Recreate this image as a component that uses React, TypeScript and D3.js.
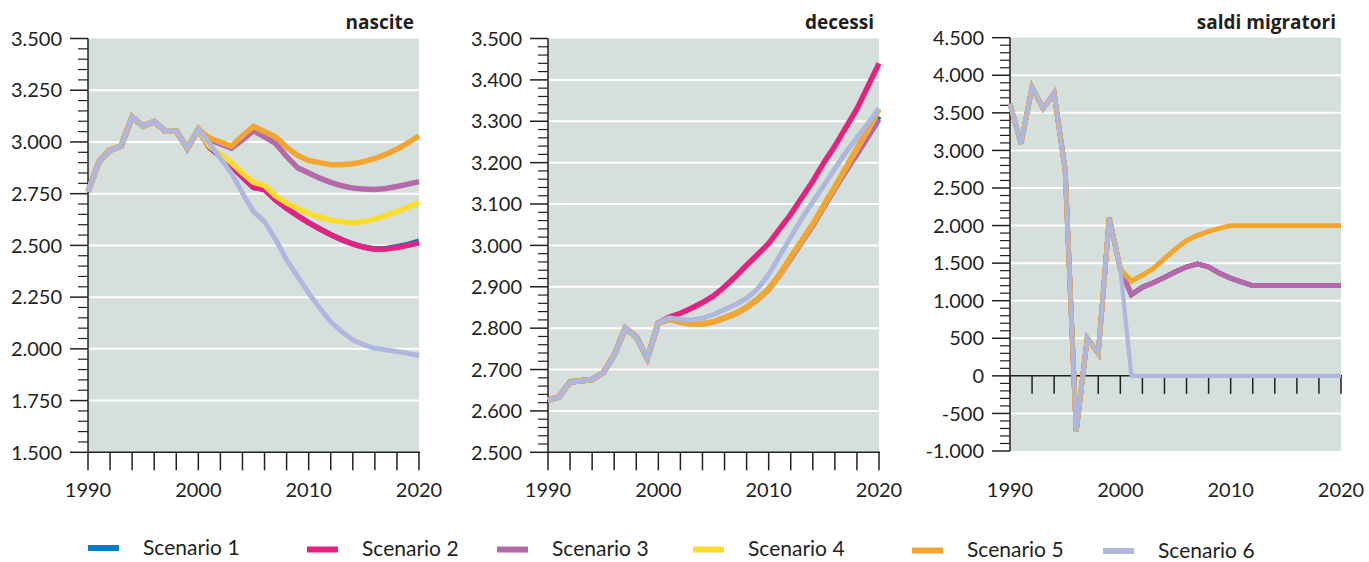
import * as d3 from "d3";

// anni sull'asse x
const years = [
  1990, 1991, 1992, 1993, 1994, 1995, 1996, 1997, 1998, 1999, 2000, 2001, 2002, 2003, 2004, 2005,
  2006, 2007, 2008, 2009, 2010, 2011, 2012, 2013, 2014, 2015, 2016, 2017, 2018, 2019, 2020,
];
const yearLabels = [1990, 2000, 2010, 2020];

const scenarios = ["Scenario 1", "Scenario 2", "Scenario 3", "Scenario 4", "Scenario 5", "Scenario 6"];
const colors = ["#0a7cc3", "#e3237f", "#b46aa9", "#fbdc2c", "#f2a531", "#aeb7dd"];

// nascite: storico 1990-2000, proiezioni 2001-2020
const birthsHist = [2760, 2905, 2960, 2980, 3120, 3077, 3098, 3053, 3053, 2970, 3061];
const birthsS1 = [2975, 2930, 2885, 2830, 2780, 2770, 2720, 2680, 2643, 2610, 2580, 2552, 2527, 2507, 2492, 2483, 2485, 2494, 2505, 2520];
const birthsS2 = [2975, 2930, 2885, 2830, 2780, 2770, 2720, 2680, 2643, 2610, 2580, 2552, 2527, 2507, 2491, 2481, 2482, 2490, 2500, 2512];
const birthsS3 = [3010, 2990, 2970, 3010, 3055, 3025, 2993, 2930, 2875, 2850, 2825, 2805, 2788, 2777, 2772, 2770, 2775, 2785, 2796, 2808];
const birthsS4 = [2980, 2940, 2900, 2850, 2805, 2790, 2740, 2705, 2678, 2655, 2636, 2622, 2613, 2610, 2614, 2628, 2645, 2664, 2685, 2708];
const birthsS5 = [3020, 3000, 2980, 3030, 3075, 3050, 3025, 2975, 2935, 2910, 2900, 2890, 2890, 2895, 2905, 2920, 2940, 2965, 2995, 3030];
const birthsS6 = [2995, 2920, 2850, 2753, 2663, 2615, 2530, 2430, 2349, 2270, 2197, 2131, 2083, 2043, 2019, 2003, 1995, 1987, 1978, 1968];

// decessi
const deathsHist = [2626, 2634, 2670, 2673, 2676, 2692, 2735, 2800, 2779, 2727, 2813];
const deathsS1 = [2822, 2815, 2810, 2810, 2815, 2825, 2835, 2850, 2870, 2895, 2930, 2970, 3010, 3050, 3094, 3138, 3182, 3225, 3268, 3312];
const deathsS2 = [2827, 2836, 2848, 2862, 2878, 2900, 2925, 2952, 2978, 3005, 3040, 3075, 3115, 3155, 3200, 3240, 3285, 3330, 3385, 3440];
const deathsS3 = [2822, 2815, 2810, 2810, 2815, 2825, 2835, 2850, 2869, 2893, 2928, 2968, 3008, 3048, 3093, 3138, 3180, 3220, 3262, 3305];
const deathsS4 = [2822, 2815, 2810, 2810, 2815, 2825, 2835, 2850, 2870, 2895, 2930, 2972, 3012, 3052, 3097, 3142, 3188, 3234, 3280, 3328];
const deathsS5 = [2822, 2815, 2810, 2810, 2815, 2825, 2835, 2850, 2870, 2895, 2930, 2972, 3012, 3052, 3097, 3142, 3188, 3235, 3282, 3330];
const deathsS6 = [2825, 2821, 2820, 2824, 2833, 2845, 2857, 2872, 2895, 2930, 2975, 3020, 3065, 3105, 3145, 3185, 3225, 3260, 3295, 3330];

// saldi migratori
const migrHist = [3620, 3090, 3840, 3560, 3760, 2740, -740, 500, 300, 2100, 1420];
const migrS1 = [1080, 1180, 1240, 1310, 1385, 1450, 1490, 1450, 1365, 1300, 1250, 1200, 1200, 1200, 1200, 1200, 1200, 1200, 1200, 1200];
const migrS2 = [1080, 1180, 1240, 1310, 1385, 1450, 1490, 1450, 1365, 1300, 1250, 1200, 1200, 1200, 1200, 1200, 1200, 1200, 1200, 1200];
const migrS3 = [1080, 1180, 1240, 1310, 1385, 1450, 1490, 1450, 1365, 1300, 1250, 1200, 1200, 1200, 1200, 1200, 1200, 1200, 1200, 1200];
const migrS4 = [1260, 1340, 1430, 1560, 1690, 1800, 1870, 1920, 1965, 2000, 2000, 2000, 2000, 2000, 2000, 2000, 2000, 2000, 2000, 2000];
const migrS5 = [1260, 1340, 1430, 1560, 1690, 1800, 1870, 1920, 1965, 2000, 2000, 2000, 2000, 2000, 2000, 2000, 2000, 2000, 2000, 2000];
const migrS6 = [0, 0, 0, 0, 0, 0, 0, 0, 0, 0, 0, 0, 0, 0, 0, 0, 0, 0, 0, 0];

const BG = "#d5dfdb";
const INK = "#231f20";
const FONT = "Lato, 'Open Sans', sans-serif";

const it = d3.formatLocale({ decimal: ",", thousands: ".", grouping: [3], currency: ["", "€"], minus: "-" });
const fmt = it.format(",d");

interface PanelCfg {
  title: string;
  left: number;
  right: number;
  top: number;
  bottom: number;
  domain: [number, number];
  major: number;
  minor: number;
  zeroAxis: boolean;
  width: number;
  hist: number[];
  proj: number[][];
}

const panels: PanelCfg[] = [
  {
    title: "nascite", left: 88, right: 419, top: 38.5, bottom: 452.3,
    domain: [1500, 3500], major: 250, minor: 50, zeroAxis: false, width: 5.5,
    hist: birthsHist, proj: [birthsS1, birthsS2, birthsS3, birthsS4, birthsS5, birthsS6],
  },
  {
    title: "decessi", left: 548, right: 879, top: 38.5, bottom: 452.3,
    domain: [2500, 3500], major: 100, minor: 20, zeroAxis: false, width: 5.5,
    hist: deathsHist, proj: [deathsS1, deathsS2, deathsS3, deathsS4, deathsS5, deathsS6],
  },
  {
    title: "saldi migratori", left: 1010, right: 1341, top: 37.7, bottom: 451,
    domain: [-1000, 4500], major: 500, minor: 100, zeroAxis: true, width: 4.8,
    hist: migrHist, proj: [migrS1, migrS2, migrS3, migrS4, migrS5, migrS6],
  },
];

// legenda: posizione di ogni voce
const legendX = [88, 307, 497, 693, 912, 1103];
const legendY = [548, 549.5, 549.5, 549.5, 550.5, 551];

function Panel({ cfg }: { cfg: PanelCfg }) {
  const x = d3.scaleLinear().domain([1990, 2020]).range([cfg.left, cfg.right]);
  const y = d3.scaleLinear().domain(cfg.domain).range([cfg.bottom, cfg.top]);
  const [d0, d1] = cfg.domain;
  const majors = d3.range(d0, d1 + 1, cfg.major);
  const minors = d3.range(d0, d1 + 1, cfg.minor).filter((v) => (v - d0) % cfg.major !== 0);
  const grid = majors.filter((v) => v !== d0 && v !== d1 && !(cfg.zeroAxis && v === 0));
  const axisY = cfg.zeroAxis ? y(0) : cfg.bottom;
  const xTicks = d3.range(1990, 2021, 2);
  const line = d3
    .line<number>()
    .x((_, i) => x(years[i]))
    .y((d) => y(d));

  return (
    <g>
      <rect x={cfg.left} y={cfg.top} width={cfg.right - cfg.left} height={cfg.bottom - cfg.top} fill={BG} />
      {grid.map((v) => (
        <line key={v} x1={cfg.left} x2={cfg.right} y1={y(v)} y2={y(v)} stroke="#fff" strokeWidth={2} />
      ))}
      {/* asse y */}
      <line x1={cfg.left} x2={cfg.left} y1={cfg.top} y2={cfg.bottom} stroke={INK} strokeWidth={1.5} />
      {majors.map((v) => (
        <g key={"M" + v}>
          <line x1={cfg.left - 18} x2={cfg.left} y1={y(v)} y2={y(v)} stroke={INK} strokeWidth={1.5} />
          <text x={cfg.left - 26} y={y(v)} dy="0.36em" textAnchor="end" fontSize={20} fill={INK} fontFamily={FONT}>
            {fmt(v)}
          </text>
        </g>
      ))}
      {minors.map((v) => (
        <line key={"m" + v} x1={cfg.left - 10} x2={cfg.left} y1={y(v)} y2={y(v)} stroke={INK} strokeWidth={1.2} />
      ))}
      {/* asse x */}
      <line x1={cfg.left} x2={cfg.right + 1} y1={axisY} y2={axisY} stroke={INK} strokeWidth={1.5} />
      {xTicks.map((t) => (
        <line key={"t" + t} x1={x(t)} x2={x(t)} y1={axisY} y2={axisY + 18} stroke={INK} strokeWidth={1.5} />
      ))}
      {yearLabels.map((t) => (
        <text key={"l" + t} x={x(t)} y={497} textAnchor="middle" fontSize={20} fill={INK} fontFamily={FONT}>
          {t}
        </text>
      ))}
      {cfg.proj.map((p, i) => (
        <path
          key={scenarios[i]}
          d={line(cfg.hist.concat(p)) || ""}
          fill="none"
          stroke={colors[i]}
          strokeWidth={i === 5 ? cfg.width - 0.6 : cfg.width}
        />
      ))}
      <text
        x={cfg.right - 5}
        y={29}
        textAnchor="end"
        fontSize={19}
        fontWeight="bold"
        fill={INK}
        fontFamily="'Open Sans', Lato, sans-serif"
      >
        {cfg.title}
      </text>
    </g>
  );
}

export default function App() {
  return (
    <svg
      width={1369}
      height={562}
      style={{ position: "absolute", left: 0, top: 0, background: "#fff" }}
    >
      {panels.map((p) => (
        <Panel key={p.title} cfg={p} />
      ))}
      {scenarios.map((s, i) => (
        <g key={s}>
          <rect x={legendX[i]} y={legendY[i] - 3} width={31} height={6} fill={colors[i]} />
          <text x={legendX[i] + 55} y={legendY[i] + 6.5} fontSize={21} fill={INK} fontFamily={FONT}>
            {s}
          </text>
        </g>
      ))}
    </svg>
  );
}
